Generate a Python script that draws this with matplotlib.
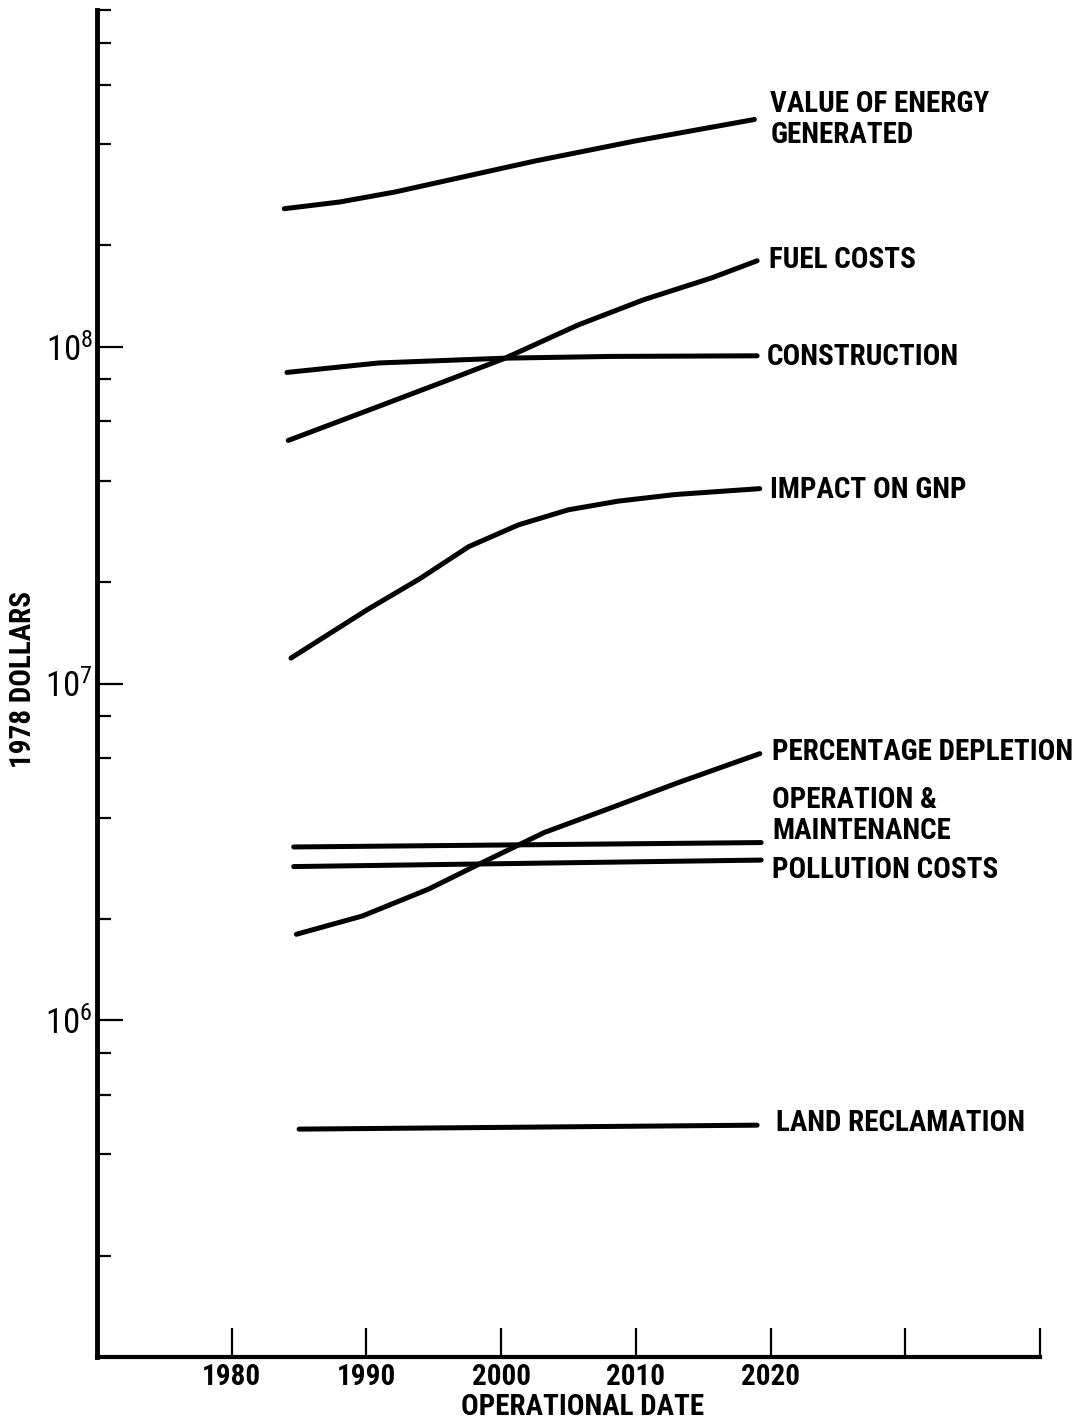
import matplotlib
matplotlib.use("Agg")
import matplotlib.pyplot as plt
from matplotlib.ticker import FixedLocator, NullFormatter

plt.rcParams["font.family"] = ["Roboto Condensed", "DejaVu Sans"]
plt.rcParams["mathtext.fontset"] = "custom"
plt.rcParams["mathtext.rm"] = "Roboto Condensed"

# values (1978 dollars)
energy_yr = [1983.9, 1988, 1992.1, 2002.5, 2009.9, 2018.8]
energy_val = [2.57e8, 2.69e8, 2.88e8, 3.56e8, 4.08e8, 4.73e8]

fuel_yr = [1984.2, 1990.9, 1995.8, 2000.3, 2005.7, 2010.6, 2015.6, 2019.0]
fuel_val = [5.27e7, 6.65e7, 7.89e7, 9.25e7, 1.16e8, 1.38e8, 1.60e8, 1.80e8]

constr_yr = [1984.1, 1990.9, 2000.3, 2008.2, 2019.0]
constr_val = [8.39e7, 8.95e7, 9.25e7, 9.36e7, 9.4e7]

gnp_yr = [1984.4, 1990.1, 1993.9, 1997.6, 2001.3, 2005, 2008.7, 2012.9, 2019.2]
gnp_val = [1.19e7, 1.66e7, 2.04e7, 2.55e7, 2.96e7, 3.28e7, 3.48e7, 3.64e7, 3.79e7]

depl_yr = [1984.8, 1989.7, 1994.6, 1998.3, 2003.2, 2008.2, 2013.1, 2019.2]
depl_val = [1.80e6, 2.04e6, 2.45e6, 2.90e6, 3.61e6, 4.28e6, 5.07e6, 6.19e6]

om_yr = [1984.6, 2019.3]
om_val = [3.27e6, 3.37e6]

poll_yr = [1984.6, 2019.3]
poll_val = [2.86e6, 2.99e6]

land_yr = [1985, 2019]
land_val = [4.75e5, 4.88e5]

series = [
    (energy_yr, energy_val, "VALUE OF ENERGY\nGENERATED", (16, 0)),
    (fuel_yr, fuel_val, "FUEL COSTS", (12, 1)),
    (constr_yr, constr_val, "CONSTRUCTION", (10, -1)),
    (gnp_yr, gnp_val, "IMPACT ON GNP", (10, -1)),
    (depl_yr, depl_val, "PERCENTAGE DEPLETION", (12, 2)),
    (om_yr, om_val, "OPERATION &\nMAINTENANCE", (11, 27)),
    (poll_yr, poll_val, "POLLUTION COSTS", (11, -10)),
    (land_yr, land_val, "LAND RECLAMATION", (19, 2)),
]

year_ticks = [1980, 1990, 2000, 2010, 2020, 2030, 2040]
year_labels = ["1980", "1990", "2000", "2010", "2020", "", ""]
decade_ticks = [1e6, 1e7, 1e8]
decade_labels = [r"$\mathregular{10^6}$", r"$\mathregular{10^7}$", r"$\mathregular{10^8}$"]

fig = plt.figure(figsize=(10.75, 14.2), dpi=100)
ax = fig.add_axes([97 / 1075, 1 - 1357 / 1420, (1040 - 97) / 1075, (1357 - 10) / 1420])

for yr, val, label, off in series:
    ax.plot(yr, val, color="black", lw=3.6, solid_capstyle="round",
            solid_joinstyle="round")
    ax.annotate(label, xy=(yr[-1], val[-1]), xytext=off, textcoords="offset pixels",
                ha="left", va="center", fontsize=21, fontweight="bold",
                linespacing=1.1, annotation_clip=False)

ax.set_yscale("log")
ax.set_xlim(1970, 2040)
ax.set_ylim(1e5, 1e9)

ax.xaxis.set_major_locator(FixedLocator(year_ticks))
ax.set_xticklabels(year_labels, fontsize=21, fontweight="bold")
ax.yaxis.set_major_locator(FixedLocator(decade_ticks))
ax.set_yticklabels(decade_labels, fontsize=25)
minor = [m * 10 ** e for e in range(5, 9) for m in (2, 4, 6, 8)] + [1e9]
ax.yaxis.set_minor_locator(FixedLocator(minor))
ax.yaxis.set_minor_formatter(NullFormatter())

ax.tick_params(axis="x", direction="in", length=21, width=1.6, pad=4)
ax.tick_params(axis="y", which="major", direction="in", length=19, width=1.6, pad=3)
ax.tick_params(axis="y", which="minor", direction="in", length=10, width=1.6)

for side in ("top", "right"):
    ax.spines[side].set_visible(False)
ax.spines["left"].set_linewidth(3.5)
ax.spines["bottom"].set_linewidth(3.0)

ax.set_xlabel("OPERATIONAL DATE", fontsize=21, fontweight="bold")
ax.set_ylabel("1978 DOLLARS", fontsize=21, fontweight="bold")
ax.xaxis.set_label_coords((583 - 97) / 943, -(1393 - 1357) / 1347)
ax.yaxis.set_label_coords(-(97 - 37) / 943, 1 - (680 - 10) / 1347)

fig.savefig("out.png", dpi=100)
